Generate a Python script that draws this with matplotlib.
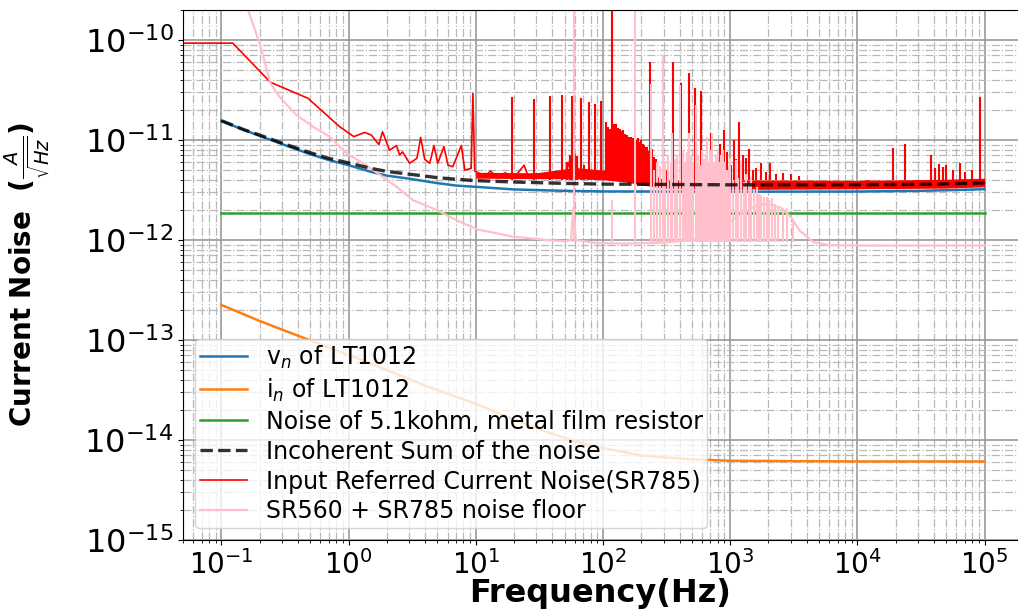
import matplotlib
matplotlib.use("Agg")
import matplotlib.pyplot as plt
from matplotlib.lines import Line2D

# ---- data (frequency in Hz, noise in A/sqrt(Hz)) ----
vn_f = [0.1, 0.15, 0.2, 0.3, 0.5, 0.7, 1, 1.5, 2, 3, 5, 7, 10, 20, 50, 100,
        1e3, 1e4, 3e4, 6e4, 1e5]
vn_v = [1.55e-11, 1.26e-11, 1.10e-11, 9.1e-12, 7.2e-12, 6.3e-12, 5.6e-12, 4.8e-12,
        4.4e-12, 4.1e-12, 3.7e-12, 3.5e-12, 3.4e-12, 3.2e-12, 3.1e-12, 3.06e-12,
        3.04e-12, 3.05e-12, 3.1e-12, 3.16e-12, 3.22e-12]

in_f = [0.1, 0.2, 0.3, 0.5, 1, 2, 4, 7, 10, 20, 40, 70, 100, 200, 500, 1e3, 1e4, 1e5]
in_v = [2.24e-13, 1.55e-13, 1.27e-13, 9.9e-14, 7.1e-14, 5.0e-14, 3.5e-14, 2.7e-14,
        2.3e-14, 1.6e-14, 1.15e-14, 9.2e-15, 8.3e-15, 7.0e-15, 6.4e-15, 6.2e-15,
        6.1e-15, 6.1e-15]

res_f = [0.1, 1e5]
res_v = [1.86e-12, 1.86e-12]

sum_f = vn_f
sum_v = [1.56e-11, 1.27e-11, 1.12e-11, 9.3e-12, 7.45e-12, 6.55e-12, 5.9e-12, 5.2e-12,
         4.85e-12, 4.55e-12, 4.2e-12, 4.05e-12, 3.92e-12, 3.8e-12, 3.68e-12, 3.62e-12,
         3.56e-12, 3.57e-12, 3.6e-12, 3.66e-12, 3.72e-12]

# measured input referred noise (SR785): trace, noise band and line spikes
meas_f = [0.04, 0.123, 0.243, 0.48, 0.85, 1.1, 1.34, 1.51, 1.73, 1.85, 2.1, 2.38,
          2.52, 2.66, 3.02, 3.45, 3.69, 3.97, 4.35, 4.69, 5.03, 5.62, 6.05, 6.6,
          7.7, 8.2, 9.2, 9.5, 9.8, 10.1, 12, 13, 15, 17, 20, 24, 26, 30, 35, 42,
          50, 56, 58, 60, 63, 70, 85, 100, 130, 180, 250, 300, 400, 600, 900,
          1300, 2000, 3000, 5000, 8000, 12000, 20000, 30000, 45000, 70000, 1e5]
meas_v = [9.3e-11, 9.3e-11, 3.78e-11, 2.61e-11, 1.36e-11, 1.08e-11, 1.19e-11, 1.12e-11,
          9.0e-12, 1.21e-11, 7.9e-12, 8.8e-12, 7.1e-12, 7.6e-12, 5.85e-12, 6.56e-12,
          1.06e-11, 6.4e-12, 5.85e-12, 8.8e-12, 5.85e-12, 8.6e-12, 5.6e-12, 5.4e-12,
          8.8e-12, 5.0e-12, 5.2e-12, 2.93e-11, 4.9e-12, 4.8e-12, 4.3e-12, 4.9e-12,
          4.2e-12, 4.7e-12, 4.2e-12, 5.6e-12, 4.2e-12, 4.6e-12, 4.2e-12, 4.6e-12,
          4.3e-12, 6.8e-12, 5.0e-12, 7.2e-12, 5.2e-12, 4.4e-12, 4.6e-12, 4.4e-12,
          5.5e-12, 5.0e-12, 4.2e-12, 3.6e-12, 3.8e-12, 3.4e-12, 3.9e-12, 3.5e-12,
          3.8e-12, 3.4e-12, 3.8e-12, 3.4e-12, 3.9e-12, 3.5e-12, 3.9e-12, 3.6e-12,
          4.0e-12, 3.7e-12]

band_f = [10, 30, 60, 100, 150, 220, 300, 1e3, 1e4, 5e4, 1e5]
band_lo = [4.15e-12, 4.1e-12, 4.1e-12, 4.0e-12, 3.8e-12, 3.5e-12, 3.3e-12, 3.2e-12,
           3.25e-12, 3.3e-12, 3.4e-12]
band_hi = [4.75e-12, 4.7e-12, 5.3e-12, 5.0e-12, 5.8e-12, 4.8e-12, 4.0e-12, 4.0e-12,
           3.95e-12, 4.05e-12, 4.15e-12]

spike_f = [19.3, 28.7, 38.6, 48, 57.5, 66.8, 77, 86, 96,
           52, 55, 59, 61, 63, 71,
           106, 110, 114, 118, 122, 126, 131, 136, 140, 144, 150, 155, 160, 165,
           171, 178, 183, 188, 194, 200, 206, 212, 216, 220, 228, 236, 245, 252,
           260, 268, 280,
           300, 320, 355, 380, 413, 440, 472, 500, 529, 560, 594, 640, 703, 740,
           780, 827, 889, 950, 1010, 1072, 1120, 1172, 1260, 1320, 1406, 1500,
           1600, 1760, 1900, 2060, 2300, 2600, 3000, 3500,
           19060, 23550, 38200, 41000, 44000, 47000, 50100, 56000, 63700, 70000,
           80000, 91400]
spike_top = [2.71e-11, 2.57e-11, 2.75e-11, 2.82e-11, 2.75e-11, 2.6e-11, 2.4e-11, 2.3e-11, 2.45e-11,
             6.0e-12, 7.0e-12, 7.4e-12, 6.6e-12, 6.9e-12, 5.6e-12,
             1.52e-11, 1.35e-11, 1.3e-11, 5e-10, 1.46e-11, 1.44e-11, 1.32e-11, 1.28e-11,
             1.22e-11, 1.26e-11, 1.15e-11, 1.12e-11, 1.06e-11, 1.08e-11, 1.04e-11,
             1.05e-11, 1.0e-11, 1.04e-11, 9.6e-12, 1.0e-11, 9.2e-12, 8.9e-12, 8.6e-12,
             8.6e-12, 7.8e-12, 6.07e-11, 8.1e-12, 6.8e-12, 6.5e-12, 5.6e-12, 5.0e-12,
             4.8e-12, 5.0e-12, 6.07e-11, 5.0e-12, 3.69e-11, 5.2e-12, 4.65e-11, 5.0e-12,
             3.29e-11, 5.4e-12, 3.1e-11, 5.2e-12, 1.17e-11, 5.5e-12, 6.0e-12, 9.2e-12,
             1.26e-11, 7.6e-12, 5.6e-12, 1.0e-11, 6.5e-12, 1.5e-11, 7.0e-12, 6.6e-12,
             8.1e-12, 5.0e-12, 5.2e-12, 5.85e-12, 4.8e-12, 5.85e-12, 4.6e-12, 4.7e-12,
             4.6e-12, 4.4e-12,
             8.4e-12, 9.1e-12, 7.0e-12, 5.3e-12, 5.8e-12, 5.4e-12, 5.6e-12, 5.0e-12,
             5.85e-12, 4.8e-12, 5.0e-12, 2.71e-11]

# SR560 + SR785 noise floor
floor_f = [0.125, 0.162, 0.2, 0.243, 0.287, 0.388, 0.525, 0.71, 0.96, 1.3, 1.76,
           2.38, 3.21, 4.9, 6.0, 7.95, 10.7, 14, 19.5, 25, 35.9, 50, 56, 57.5, 58.5,
           59.5, 61, 88.8, 150, 300, 500, 700, 900, 1200, 1600, 2000, 2500, 3000,
           3500, 4500, 6000, 1e4, 1e5]
floor_v = [6e-10, 2.0e-10, 9.3e-11, 3.7e-11, 2.7e-11, 1.78e-11, 1.36e-11, 1.08e-11,
           7.4e-12, 5.85e-12, 4.5e-12, 3.41e-12, 2.5e-12, 2.0e-12, 1.75e-12, 1.47e-12,
           1.26e-12, 1.18e-12, 1.08e-12, 1.05e-12, 1.0e-12, 9.7e-13, 1.0e-12, 1.5e-12,
           2.1e-12, 1.6e-12, 1.0e-12, 9.3e-13, 9.2e-13, 9.4e-13, 1.0e-12, 1.1e-12,
           1.4e-12, 1.8e-12, 2.2e-12, 2.3e-12, 2.1e-12, 1.7e-12, 1.25e-12, 9.5e-13,
           8.9e-13, 8.8e-13, 8.8e-13]

fspike_f = [59, 118, 177, 237, 250, 265, 280, 296, 310, 325, 340, 351, 370, 385,
            401, 425, 440, 455, 474, 490, 510, 536, 555, 580, 600, 620, 640, 661,
            680, 700, 722, 750, 775, 800, 830, 850, 880, 910, 940, 970, 1000, 1050,
            1110, 1160, 1220, 1280, 1340, 1400, 1470, 1540, 1620, 1690, 1760, 1850,
            1930, 2020, 2120, 2250, 2390, 2580, 2780, 3110]
fspike_top = [5e-10, 2.5e-12, 5e-10, 3.6e-11, 5e-12, 6e-12, 5.5e-12, 7.0e-11, 6e-12,
              7e-12, 6e-12, 1.17e-11, 6.5e-12, 7e-12, 3.55e-11, 8e-12, 6e-12, 7.5e-12,
              1.17e-11, 7e-12, 6e-12, 2.24e-11, 7e-12, 5.6e-12, 8e-12, 6.5e-12, 7e-12,
              1.08e-11, 6e-12, 8e-12, 1.17e-11, 6e-12, 7e-12, 8.2e-12, 6e-12, 7e-12,
              7.9e-12, 6e-12, 5.0e-12, 5.5e-12, 6.6e-12, 4.0e-12, 6.3e-12, 4.2e-12,
              6.1e-12, 3.8e-12, 4.6e-12, 3.6e-12, 4.3e-12, 3.2e-12, 3.4e-12, 2.9e-12,
              2.8e-12, 2.7e-12, 2.7e-12, 2.5e-12, 2.6e-12, 2.3e-12, 2.2e-12, 2.1e-12,
              2.1e-12, 1.6e-12]

# ---- figure ----
fig = plt.figure(figsize=(10.18, 6.13), dpi=100)
# axes runs to the right edge of the canvas, like the cropped original
ax = fig.add_axes([0.1798, 0.1191, 0.8202, 0.8648])

ax.loglog(vn_f, vn_v, color="tab:blue", lw=1.8, zorder=2.0)
ax.loglog(in_f, in_v, color="tab:orange", lw=1.8, zorder=2.0)
ax.loglog(res_f, res_v, color="tab:green", lw=1.8, zorder=2.0)

ax.fill_between(band_f, band_lo, band_hi, color="red", lw=0, zorder=2.1)
ax.vlines(spike_f, 4.0e-12, spike_top, color="red", lw=1.5, zorder=2.1)
ax.loglog(meas_f, meas_v, color="red", lw=1.2, zorder=2.1)

ax.vlines(fspike_f, 9.5e-13, fspike_top, color="pink", lw=1.5, zorder=2.2)
ax.loglog(floor_f, floor_v, color="pink", lw=1.6, zorder=2.2)

ax.loglog(sum_f, sum_v, color="k", ls="--", lw=2.4, alpha=0.8, zorder=2.3)

ax.set_xlim(0.05, 1.83e5)
ax.set_ylim(1e-15, 2e-10)
ax.spines["right"].set_visible(False)

ax.grid(which="major", color="0.6", lw=1.2, ls="-")
ax.grid(which="minor", color="0.72", lw=0.9, ls="-.")
ax.tick_params(axis="x", which="both", labelsize=20)
ax.tick_params(axis="y", which="both", labelsize=23)

ax.set_xlabel("Frequency(Hz)", fontsize=23, fontweight="bold", labelpad=-1)
ax.set_ylabel(r"Current Noise  ($\frac{A}{\sqrt{Hz}}$)", fontsize=20,
              fontweight="bold")
ax.yaxis.set_label_coords(-0.157, 0.5)

handles = [
    Line2D([], [], color="tab:blue", lw=1.8),
    Line2D([], [], color="tab:orange", lw=1.8),
    Line2D([], [], color="tab:green", lw=1.8),
    Line2D([], [], color="k", ls="--", lw=2.4, alpha=0.8),
    Line2D([], [], color="red", lw=1.2),
    Line2D([], [], color="pink", lw=1.6),
]
labels = [
    r"v$_n$ of LT1012",
    r"i$_n$ of LT1012",
    "Noise of 5.1kohm, metal film resistor",
    "Incoherent Sum of the noise",
    "Input Referred Current Noise(SR785)",
    "SR560 + SR785 noise floor",
]
ax.legend(handles, labels, loc="lower left", fontsize=17, labelspacing=0.25,
          borderpad=0.2, handlelength=2.0)

fig.savefig("out.png", dpi=100)
